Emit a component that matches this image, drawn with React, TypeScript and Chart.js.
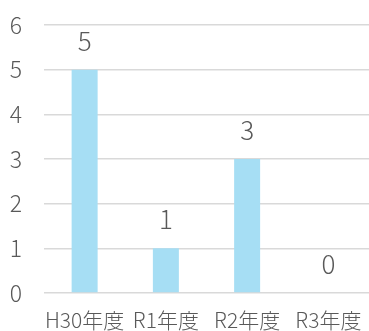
import React, { useEffect, useRef } from "react";
import { Chart, registerables } from "chart.js";

Chart.register(...registerables);

const categories = ["H30年度", "R1年度", "R2年度", "R3年度"];
const counts = [5, 1, 3, 0];
const yTicks = [0, 1, 2, 3, 4, 5, 6];

const FONT = "'Noto Sans CJK JP', 'Noto Sans', sans-serif";
const TEXT = "#595959";

// Prints each bar's value above it
const valueLabels = {
  id: "valueLabels",
  afterDatasetsDraw(chart: any) {
    const { ctx } = chart;
    const meta = chart.getDatasetMeta(0);
    ctx.save();
    ctx.font = `300 26px ${FONT}`;
    ctx.fillStyle = TEXT;
    ctx.textAlign = "center";
    ctx.textBaseline = "middle";
    meta.data.forEach((bar: any, i: number) => {
      ctx.fillText(String(counts[i]), bar.x, bar.y - 29);
    });
    ctx.restore();
  },
};

export default function App() {
  const ref = useRef<HTMLCanvasElement>(null);

  useEffect(() => {
    document.body.style.margin = "0";
    const chart = new Chart(ref.current!, {
      type: "bar",
      data: {
        labels: categories,
        datasets: [
          {
            data: counts,
            backgroundColor: "#A6DEF4",
            barPercentage: 0.64,
            categoryPercentage: 0.5,
          },
        ],
      },
      options: {
        animation: false,
        responsive: false,
        layout: { padding: { top: 25, right: 0, left: 0, bottom: 0 } },
        plugins: { legend: { display: false }, tooltip: { enabled: false } },
        scales: {
          x: {
            grid: { display: false },
            border: { display: false },
            ticks: {
              color: TEXT,
              font: { family: FONT, size: 21, weight: 300 as any },
              padding: 6,
              maxRotation: 0,
              autoSkip: false,
            },
            afterFit(scale: any) {
              scale.height = 38;
              scale.paddingLeft = 0;
              scale.paddingRight = 0;
            },
          },
          y: {
            min: 0,
            max: 6,
            afterBuildTicks(scale: any) {
              scale.ticks = yTicks.map((v) => ({ value: v }));
            },
            grid: { color: "#D9D9D9", lineWidth: 1.5, drawTicks: false },
            border: { display: false },
            ticks: {
              color: TEXT,
              font: { family: FONT, size: 23, weight: 300 as any },
              padding: 22,
            },
            afterFit(scale: any) {
              scale.width = 44;
              scale.paddingTop = 0;
              scale.paddingBottom = 0;
            },
          },
        },
      },
      plugins: [valueLabels],
    });
    return () => chart.destroy();
  }, []);

  return <canvas ref={ref} width={369} height={331} style={{ display: "block" }} />;
}
